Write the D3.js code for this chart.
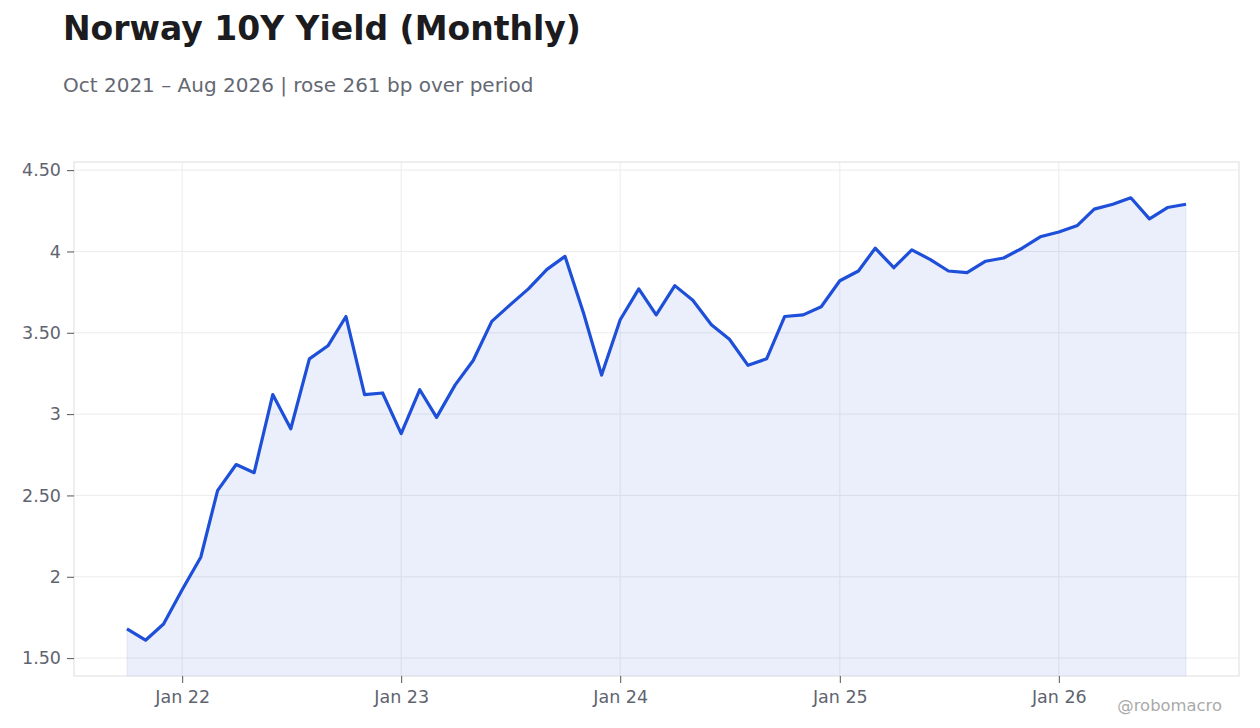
<!DOCTYPE html>
<html>
<head>
<meta charset="utf-8">
<script src="https://cdn.jsdelivr.net/npm/d3@7"></script>
<style>
  body { margin: 0; background: #fff; font-family: "DejaVu Sans", sans-serif; }
</style>
</head>
<body>
<div id="canvas"></div>
<script>
// monthly yields, Oct 2021 .. Aug 2026
const months = d3.timeMonths(new Date(2021, 9, 1), new Date(2026, 8, 1));
const yields = [
  1.68, 1.61, 1.71,
  1.92, 2.12, 2.53, 2.69, 2.64, 3.12, 2.91, 3.34, 3.42, 3.60, 3.12, 3.13,
  2.88, 3.15, 2.98, 3.18, 3.33, 3.57, 3.67, 3.77, 3.89, 3.97, 3.62, 3.24,
  3.58, 3.77, 3.61, 3.79, 3.70, 3.55, 3.46, 3.30, 3.34, 3.60, 3.61, 3.66,
  3.82, 3.88, 4.02, 3.90, 4.01, 3.95, 3.88, 3.87, 3.94, 3.96, 4.02, 4.09,
  4.12, 4.16, 4.26, 4.29, 4.33, 4.20, 4.27, 4.29
];
const yTicks = [1.5, 2, 2.5, 3, 3.5, 4, 4.5];
const yTickLabels = ["1.50", "2", "2.50", "3", "3.50", "4", "4.50"];
const xTicks = [2022, 2023, 2024, 2025, 2026].map(y => new Date(y, 0, 1));
const xTickLabels = ["Jan 22", "Jan 23", "Jan 24", "Jan 25", "Jan 26"];

const data = months.map((m, i) => ({ date: m, value: yields[i] }));

const W = 1260, H = 728;
const margin = { top: 162, right: 21, bottom: 52, left: 74 };
const width = W - margin.left - margin.right;
const height = H - margin.top - margin.bottom;

const svg = d3.select("#canvas").append("svg")
  .attr("width", W).attr("height", H);

svg.append("text").attr("x", 63).attr("y", 40)
  .attr("font-size", 33).attr("font-weight", "bold").attr("fill", "#1b1b20")
  .text("Norway 10Y Yield (Monthly)");
svg.append("text").attr("x", 63).attr("y", 92)
  .attr("font-size", 20).attr("fill", "#646872")
  .text("Oct 2021 \u2013 Aug 2026 | rose 261 bp over period");

const g = svg.append("g").attr("transform", `translate(${margin.left},${margin.top})`);

// 5% padding on both sides of the date range
const t0 = data[0].date, t1 = data[data.length - 1].date;
const pad = (t1 - t0) * 0.05;
const x = d3.scaleTime()
  .domain([new Date(+t0 - pad), new Date(+t1 + pad)])
  .range([0, width]);
const y = d3.scaleLinear().domain([1.39, 4.55]).range([height, 0]);

// grid
g.append("g").selectAll("line").data(yTicks).join("line")
  .attr("x1", 0).attr("x2", width)
  .attr("y1", d => y(d)).attr("y2", d => y(d))
  .attr("stroke", "#ececec");
g.append("g").selectAll("line").data(xTicks).join("line")
  .attr("x1", d => x(d)).attr("x2", d => x(d))
  .attr("y1", 0).attr("y2", height)
  .attr("stroke", "#ececec");

// area + line
g.append("path").datum(data)
  .attr("fill", "rgba(29,78,216,0.09)")
  .attr("stroke", "rgba(29,78,216,0.08)")
  .attr("d", d3.area().x(d => x(d.date)).y0(height).y1(d => y(d.value)));
g.append("path").datum(data)
  .attr("fill", "none").attr("stroke", "#1d4fd8").attr("stroke-width", 3.2)
  .attr("stroke-linejoin", "round")
  .attr("d", d3.line().x(d => x(d.date)).y(d => y(d.value)));

// frame
g.append("rect").attr("width", width).attr("height", height)
  .attr("fill", "none").attr("stroke", "#dedede");

// axes
const yAxis = g.append("g")
  .call(d3.axisLeft(y).tickValues(yTicks).tickSize(7).tickPadding(6)
    .tickFormat((d, i) => yTickLabels[i]));
const xAxis = g.append("g").attr("transform", `translate(0,${height})`)
  .call(d3.axisBottom(x).tickValues(xTicks).tickSize(7).tickPadding(8)
    .tickFormat((d, i) => xTickLabels[i]));
[yAxis, xAxis].forEach(a => {
  a.select(".domain").remove();
  a.selectAll(".tick line").attr("stroke", "#555");
  a.selectAll(".tick text").attr("fill", "#5f6470")
    .attr("font-size", 17.5).attr("font-family", "DejaVu Sans");
});

svg.append("text").attr("x", 1222).attr("y", 711).attr("text-anchor", "end")
  .attr("font-size", 16.4).attr("fill", "#aaaaaa")
  .text("@robomacro");
</script>
</body>
</html>
